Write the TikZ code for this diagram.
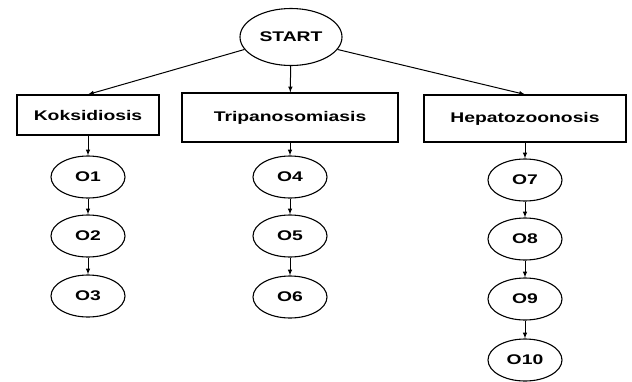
\documentclass[tikz,border=0pt]{standalone}
\usepackage{fontspec}
\setmainfont[FakeStretch=1.38]{Liberation Sans}
\usetikzlibrary{shapes.geometric,calc,arrows}

\begin{document}
\begin{tikzpicture}[x=1pt,y=-1pt,
	teks/.style={font=\bfseries\fontsize{14}{16}\selectfont},
	oval/.style={draw,ellipse,teks,line width=1.1pt,minimum width=74pt,minimum height=42pt,inner sep=0pt},
	kasus/.style={draw,rectangle,teks,line width=1.1pt,inner sep=0pt},
	panah/.style={->,>=latex,line width=1pt}]
			\useasboundingbox (0,0) rectangle (632,381);
			%start
			\node[oval,minimum width=102pt,minimum height=57pt] (start) at (291,37) {START};
			%penyakit
			\node[kasus,minimum width=142pt,minimum height=40pt] (kok) at (88,115) {Koksidiosis};
			\node[kasus,minimum width=216pt,minimum height=49pt] (tri) at (290,117.5) {Tripanosomiasis};
			\node[kasus,minimum width=202pt,minimum height=47pt] (hep) at (525,118.5) {Hepatozoonosis};
			%gejala
			\foreach \n/\x/\y in {1/88/177, 2/88/236, 3/88/296, 4/290/177, 5/290/236, 6/290/297, 7/525/180, 8/525/239, 9/525/299, 10/525/360}{
				\node[oval] (o\n) at (\x,\y) {O\n};
			}
			%panah
			\draw[panah] (start.195) -- (kok.north);
			\draw[panah] (start) -- (tri);
			\draw[panah] (start.-15) -- (hep.north);
			\foreach \a/\b in {kok/o1, o1/o2, o2/o3, tri/o4, o4/o5, o5/o6, hep/o7, o7/o8, o8/o9, o9/o10}{
				\draw[panah] (\a) -- (\b);
			}
\end{tikzpicture}
\end{document}
